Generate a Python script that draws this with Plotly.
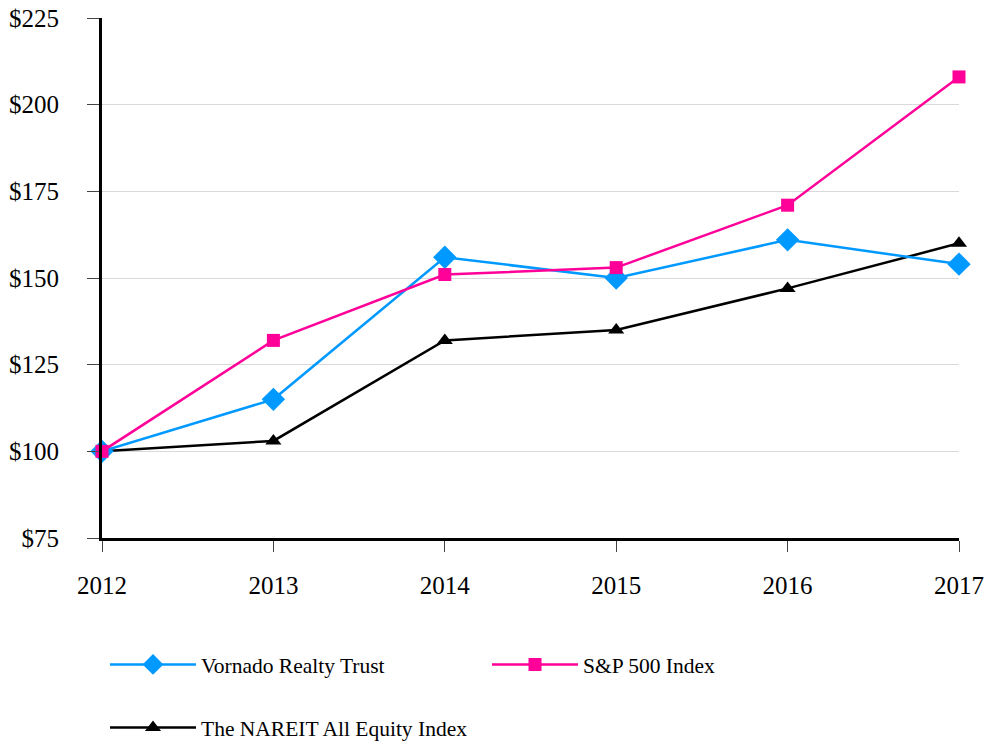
import plotly.graph_objects as go

years = [2012, 2013, 2014, 2015, 2016, 2017]
vornado = [100, 115, 156, 150, 161, 154]
sp500 = [100, 132, 151, 153, 171, 208]
nareit = [100, 103, 132, 135, 147, 160]
y_ticks = [75, 100, 125, 150, 175, 200, 225]

BLUE = "#0099FF"
PINK = "#FF0099"
BLACK = "#000000"
FONT = "Liberation Serif, Times New Roman, serif"

fig = go.Figure()
fig.add_trace(go.Scatter(x=years, y=nareit, name="The NAREIT All Equity Index", mode="lines+markers",
                         line=dict(color=BLACK, width=2.5),
                         marker=dict(symbol="triangle-up", size=14, color=BLACK),
                         cliponaxis=False, legend="legend2"))
fig.add_trace(go.Scatter(x=years, y=vornado, name="Vornado Realty Trust", mode="lines+markers",
                         line=dict(color=BLUE, width=2.5),
                         marker=dict(symbol="diamond", size=18, color=BLUE),
                         cliponaxis=False, legend="legend"))
fig.add_trace(go.Scatter(x=years, y=sp500, name="S&P 500 Index", mode="lines+markers",
                         line=dict(color=PINK, width=2.5),
                         marker=dict(symbol="square", size=13, color=PINK),
                         cliponaxis=False, legend="legend"))

PLOT_W = 988 - 102 - 29
PLOT_H = 743 - 18 - 205
ITEMW = 86

fig.update_layout(
    width=988, height=743,
    margin=dict(l=102, r=29, t=18, b=205, autoexpand=False),
    paper_bgcolor="white", plot_bgcolor="white",
    font=dict(family=FONT, color="black", size=25),
    showlegend=True,
    legend=dict(orientation="h", x=(105 - 102) / PLOT_W, y=-(644 - 538) / PLOT_H,
                xanchor="left", yanchor="top", itemwidth=ITEMW,
                entrywidth=383 - ITEMW - 16, entrywidthmode="pixels", traceorder="normal",
                font=dict(family=FONT, size=21.5), bgcolor="rgba(0,0,0,0)"),
    legend2=dict(orientation="h", x=(105 - 102) / PLOT_W, y=-(707 - 538) / PLOT_H,
                 xanchor="left", yanchor="top", itemwidth=ITEMW,
                 font=dict(family=FONT, size=21.5), bgcolor="rgba(0,0,0,0)"),
    xaxis=dict(range=[2012, 2017], tickvals=years, ticktext=[str(y) for y in years],
               showgrid=False, zeroline=False, showline=True, linecolor="black", linewidth=2.5,
               ticks="outside", ticklen=11, tickwidth=1, tickcolor="#444", automargin=False,
               ticklabelstandoff=12, tickfont=dict(size=25)),
    yaxis=dict(range=[75, 225], tickvals=y_ticks, ticktext=["$" + str(v) for v in y_ticks],
               showgrid=True, gridcolor="#D9D9D9", gridwidth=1, zeroline=False,
               showline=True, linecolor="black", linewidth=3, automargin=False,
               ticks="outside", ticklen=12, tickwidth=1, tickcolor="#444",
               ticklabelstandoff=23, tickfont=dict(size=25)),
)

fig.write_html("out.html", config={"displayModeBar": False},
               post_script="document.body.style.margin='0';document.body.style.overflow='hidden';")
